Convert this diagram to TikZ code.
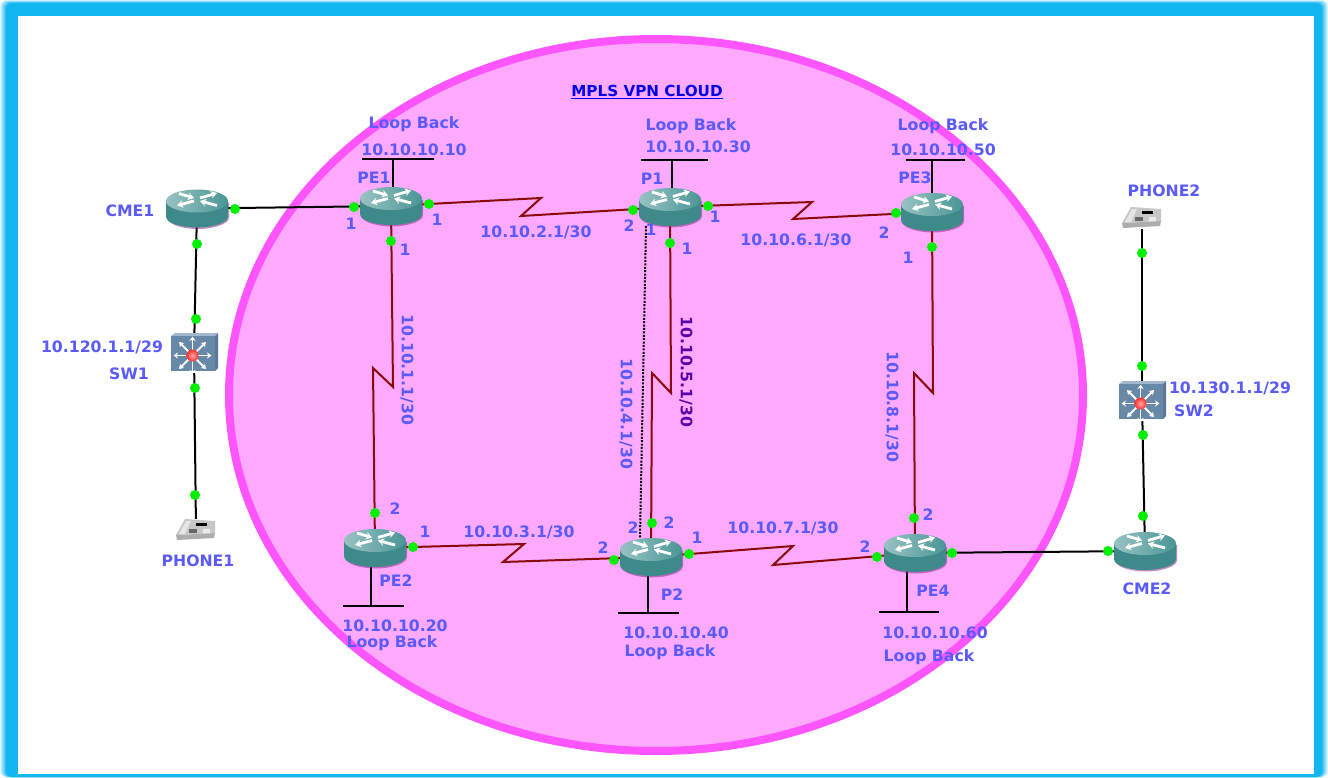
\documentclass[tikz,border=0pt]{standalone}
\usepackage{fontspec}
\setmainfont{DejaVu Sans}
\usetikzlibrary{arrows.meta,calc,backgrounds}
\definecolor{framecol}{HTML}{0DB4F0}
\definecolor{cloudfill}{HTML}{FFAAFF}
\definecolor{cloudline}{HTML}{FF55FF}
\definecolor{labelcol}{HTML}{5A5AFF}
\definecolor{serialcol}{HTML}{8B0A0A}
\definecolor{dotcol}{HTML}{00F000}
\definecolor{routerbody}{HTML}{3E8A8A}
\definecolor{routertop}{HTML}{4A9696}
\definecolor{routerlite}{HTML}{98C2C2}
\definecolor{switchfront}{HTML}{6888A8}
\definecolor{switchtop}{HTML}{A2B8CE}
\definecolor{switchside}{HTML}{5A7898}
\tikzset{
  netlabel/.style={font=\fontsize{15.7}{15.7}\selectfont\bfseries, text=labelcol, inner sep=0pt, yshift=-0.8pt},
  portdot/.style={circle, fill=dotcol, inner sep=0pt, minimum size=10pt},
  routerbox/.style={inner sep=0pt, minimum width=62pt, minimum height=37pt},
  switchbox/.style={inner sep=0pt, minimum width=47pt, minimum height=40pt},
  phonebox/.style={inner sep=0pt, minimum width=40pt, minimum height=22pt},
  lanlink/.style={line width=2pt, black},
  seriallink/.style={line width=2pt, serialcol},
  iconarrow/.style={line width=2.8pt, white, -{Stealth[length=6pt,width=7.5pt]}},
  spoke/.style={line width=1.8pt, white, -{Stealth[length=4.5pt,width=6pt]}},
}
% router icon, drawn at its node
\newcommand{\router}[2]{%
  \node[routerbox] (#1) at (#2) {};
  \begin{scope}[shift={(#1)}]
    \fill[black!45!cloudline, opacity=.55] (-30,-6) -- (-30,9) .. controls (-30,16) and (-14,20.5) .. (1,20.5) .. controls (15,20.5) and (32,16) .. (32,9) -- (32,-6) -- cycle;
    \fill[routerbody] (-31,-7) -- (-31,8) .. controls (-31,15) and (-14,19) .. (0,19) .. controls (14,19) and (31,15) .. (31,8) -- (31,-7) -- cycle;
    \shade[left color=routerlite, middle color=routertop, right color=routertop] (0,-7.5) ellipse [x radius=31, y radius=11.5];
    \draw[iconarrow] (-18,-15) -- (-3,-10.5);
    \draw[iconarrow] (3,-10.5) -- (20,-15.5);
    \draw[iconarrow] (-3,-7.5) -- (-20,-3);
    \draw[iconarrow] (20,-3) -- (3,-7.5);
  \end{scope}
}
% layer 3 switch icon
\newcommand{\switchicon}[2]{%
  \node[switchbox] (#1) at (#2) {};
  \begin{scope}[shift={(#1)}]
    \fill[switchtop] (-23,-17) -- (-19,-20) -- (24,-20) -- (21,-17) -- cycle;
    \fill[switchside] (21,-17) -- (24,-20) -- (24,15) -- (21,18) -- cycle;
    \fill[switchfront] (-23,-17) rectangle (21,18);
    \foreach \a in {0,45,...,315} {
      \draw[spoke] ($(-1.5,2.5)+(\a:5)$) -- ($(-1.5,2.5)+(\a:19)$);
    }
    \shade[inner color=red!35!white, outer color=red!75!pink] (-1.5,2.5) circle (6);
  \end{scope}
}
% IP phone icon
\newcommand{\phoneicon}[2]{%
  \node[phonebox] (#1) at (#2) {};
  \begin{scope}[shift={(#1)}]
    \fill[black!32] (-20,5) -- (19,3) -- (18,8) -- (-19,10) -- cycle;
    \fill[black!22] (-20,5) -- (-11,-11) -- (19,-9) -- (19,3) -- cycle;
    \fill[black!10] (-17,4) -- (-10,-9) -- (-5,-9) -- (-11,4) -- cycle;
    \fill[black] (0,-7.5) rectangle (11,-4.5);
    \fill[black!60] (-7,-1) rectangle (1,3);
    \fill[black!8] (7,-1) rectangle (14,3);
  \end{scope}
}
\begin{document}
\begin{tikzpicture}[x=1pt,y=-1pt]
\useasboundingbox (0,0) rectangle (1328,777);
% Routers, switches, phones
\router{cmeone}{197,208.5}
\router{peone}{391,206}
\router{pone}{670,207}
\router{pethree}{932,212}
\router{petwo}{375,548}
\router{ptwo}{651,557}
\router{pefour}{915,553}
\router{cmetwo}{1145,551}
\switchicon{swone}{194,353}
\switchicon{swtwo}{1142,401}
\phoneicon{phoneone}{196,530}
\phoneicon{phonetwo}{1142,218}
% Loop back ends
\coordinate (lbpeone) at (393,159);
\coordinate (lbpone) at (672,160);
\coordinate (lbpethree) at (932,160);
\coordinate (lbpetwo) at (371,606);
\coordinate (lbptwo) at (648,613);
\coordinate (lbpefour) at (907,612);
\begin{scope}[on background layer]
  % Frame
  \fill[white] (0,0) rectangle (1328,777);
  \foreach \i in {0,...,6} {
    \pgfmathsetmacro{\tone}{(\i+1)*14}
    \fill[framecol!\tone!white, rounded corners=6pt] (\i,0.5*\i) rectangle (1328-\i,777);
  }
  \fill[white] (18,16) rectangle (1314,774);
  % Cloud
  \draw[line width=8pt, draw=cloudline, fill=cloudfill] (656,395) ellipse [x radius=427, y radius=356];
  % LAN links
  \draw[lanlink] (cmeone) -- (peone);
  \draw[lanlink] (cmeone) -- (swone);
  \draw[lanlink] (swone) -- (phoneone);
  \draw[lanlink] (phonetwo) -- (swtwo);
  \draw[lanlink] (swtwo) -- (cmetwo);
  \draw[lanlink] (pefour) -- (cmetwo);
  % Serial links
  \draw[seriallink] (peone) -- (541,198) -- (521,216) -- (pone);
  \draw[seriallink] (pone) -- (812,202) -- (793,219) -- (pethree);
  \draw[seriallink] (peone) -- (393,387) -- (373,368) -- (petwo);
  \draw[seriallink] (pone) -- (671,393) -- (652,373) -- (ptwo);
  \draw[seriallink] (pethree) -- (933,393) -- (914,373) -- (pefour);
  \draw[seriallink] (petwo) -- (524,544) -- (503,562) -- (ptwo);
  \draw[seriallink] (ptwo) -- (793,546) -- (773,565) -- (pefour);
  % Backup link
  \draw[line width=2pt, black, dash pattern=on 2pt off 1.4pt] ($(pone)+(-24,19)$) -- ($(ptwo)+(-11,-19)$);
  % Loop backs
  \draw[lanlink] (lbpeone |- peone) -- (lbpeone);
  \draw[lanlink] (lbpone |- pone) -- (lbpone);
  \draw[lanlink] (lbpethree |- pethree) -- (lbpethree);
  \draw[lanlink] (lbpetwo |- petwo) -- (lbpetwo);
  \draw[lanlink] (lbptwo |- ptwo) -- (lbptwo);
  \draw[lanlink] (lbpefour |- pefour) -- (lbpefour);
  \draw[lanlink] (362,159) -- (434,159);
  \draw[lanlink] (641,160) -- (708,160);
  \draw[lanlink] (906,160) -- (965,160);
  \draw[lanlink] (343,606) -- (404,606);
  \draw[lanlink] (618,613) -- (679,613);
  \draw[lanlink] (879,612) -- (939,612);
\end{scope}
% Green port dots
\foreach \x/\y [count=\i] in {235/209,354/207,197/244,196/319,195/388,195/495,1142/253,1142/366,1143/435,1143/516,1108/551,952/553,429/204,633/210,708/206,896/213,391/241,375/513,670/243,652/523,932/247,914/518,413/547,614/560,689/554,877/557} {
  \node[portdot] (dot\i) at (\x,\y) {};
}
% Port numbers
\foreach \x/\y/\t [count=\i] in {351/223/1,437/219/1,405/249/1,629/225/2,651/229/1,687/248/1,715/216/1,884/232/2,908/257/1,395/508/2,425/531/1,603/547/2,633/527/2,669/522/2,697/537/1,928/514/2,865/546/2} {
  \node[netlabel] (port\i) at (\x,\y) {\t};
}
% Device and loop back labels
\node[netlabel, text=blue!93!black, font=\fontsize{15.2}{15.2}\selectfont\bfseries] (title) at (647,91) {\underline{MPLS VPN CLOUD}};
\foreach \x/\y/\t [count=\i] in {414/123/Loop Back,414/149/10.10.10.10,374/177/PE1,691/125/Loop Back,698/146/10.10.10.30,652/178/P1,943/125/Loop Back,943/149/10.10.10.50,915/177/PE3,396/580/PE2,395/625/10.10.10.20,392/642/Loop Back,672/594/P2,676/632/10.10.10.40,670/651/Loop Back,933/590/PE4,935/632/10.10.10.60,929/656/Loop Back,1147/588/CME2,130/210/CME1,102/347/{10.120.1.1/29},129/373/SW1,198/560/PHONE1,1164/190/PHONE2,1230/388/{10.130.1.1/29},1194/410/SW2,536/232/{10.10.2.1/30},796/240/{10.10.6.1/30},519/532/{10.10.3.1/30},783/528/{10.10.7.1/30}} {
  \node[netlabel] (name\i) at (\x,\y) {\t};
}
% Rotated link labels
\node[netlabel, rotate=-90] (linkpeone) at (407,369) {10.10.1.1/30};
\node[netlabel, rotate=-90] (linkback) at (626,413) {10.10.4.1/30};
\node[netlabel, rotate=-90, text=blue!65!red] (linkpone) at (686,371) {10.10.5.1/30};
\node[netlabel, rotate=-90] (linkpethree) at (892,406) {10.10.8.1/30};
\end{tikzpicture}
\end{document}
